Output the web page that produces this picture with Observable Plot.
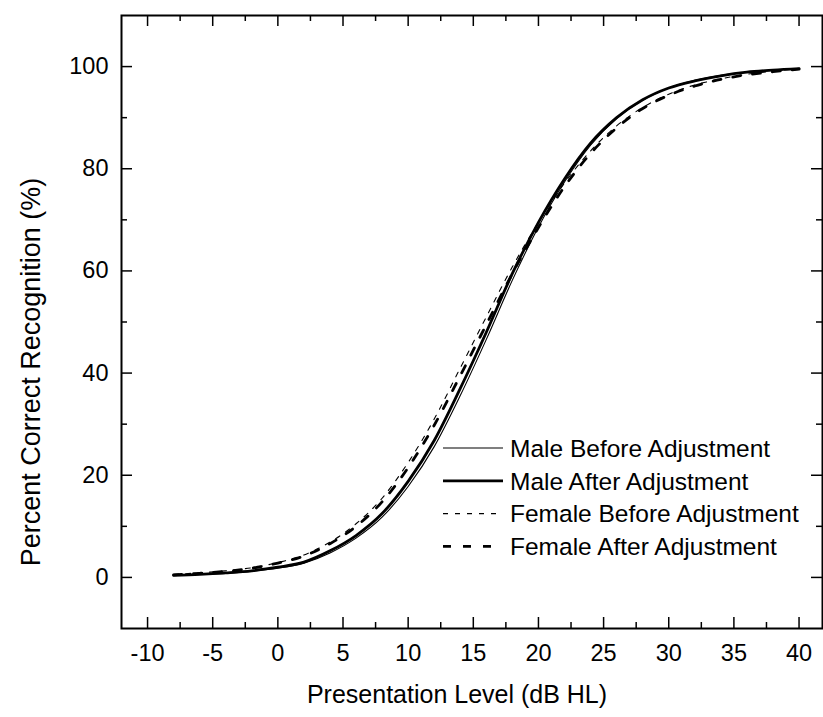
<!DOCTYPE html>
<html>
<head>
<meta charset="utf-8">
<script src="https://cdn.jsdelivr.net/npm/d3@7"></script>
<script src="https://cdn.jsdelivr.net/npm/@observablehq/plot@0.6"></script>
<style>
  body { margin: 0; background: #fff; }
  #chart { position: relative; width: 823px; height: 717px; font-family: "Liberation Sans", Arial, sans-serif; }
  #legend { position: absolute; left: 0; top: 0; pointer-events: none; }
</style>
</head>
<body>
<div id="chart"></div>
<script>
// ---- data ----
const levels       = [-8, -6, -4, -2, 0, 2, 4, 6, 8, 10, 12, 14, 16, 18, 20, 22, 24, 26, 28, 30, 32, 34, 36, 38, 40];
const maleBefore   = [0.4, 0.6, 0.8, 1.2, 1.8, 2.8, 4.8, 7.7, 11.8, 17.8, 25.6, 35.6, 46.6, 58.2, 68.6, 77.4, 84.6, 89.8, 93.4, 95.8, 97.3, 98.3, 98.9, 99.3, 99.6];
const maleAfter    = [0.4, 0.6, 0.9, 1.3, 2.0, 3.0, 5.2, 8.2, 12.5, 18.8, 26.8, 37.0, 48.0, 59.5, 69.5, 78.0, 85.0, 90.0, 93.5, 95.8, 97.2, 98.2, 98.9, 99.3, 99.6];
const femaleBefore = [0.6, 0.9, 1.3, 1.9, 2.9, 4.4, 6.9, 10.5, 15.5, 22.5, 31.0, 41.0, 51.0, 60.8, 69.5, 77.2, 83.5, 88.4, 92.0, 94.6, 96.4, 97.6, 98.5, 99.1, 99.6];
const femaleAfter  = [0.5, 0.8, 1.2, 1.8, 2.8, 4.2, 6.6, 10.0, 14.8, 21.5, 29.8, 39.5, 49.5, 59.5, 68.5, 76.5, 83.0, 88.0, 91.8, 94.4, 96.2, 97.5, 98.4, 99.0, 99.5];
const seriesNames  = ["Male Before Adjustment", "Male After Adjustment", "Female Before Adjustment", "Female After Adjustment"];
const xMajorTicks  = [-10, -5, 0, 5, 10, 15, 20, 25, 30, 35, 40];
const xMinorTicks  = [-7.5, -2.5, 2.5, 7.5, 12.5, 17.5, 22.5, 27.5, 32.5, 37.5];
const yMajorTicks  = [0, 20, 40, 60, 80, 100];
const yMinorTicks  = [10, 30, 50, 70, 90];
const xTitle = "Presentation Level (dB HL)";
const yTitle = "Percent Correct Recognition (%)";

// ---- styles ----
const seriesStyle = [
  {strokeWidth: 1.1, dash: null},
  {strokeWidth: 2.8, dash: null},
  {strokeWidth: 1.1, dash: "5,7"},
  {strokeWidth: 2.8, dash: "8,12"}
];
const seriesValues = [maleBefore, maleAfter, femaleBefore, femaleAfter];
const rows = [];
seriesNames.forEach((name, i) => levels.forEach((x, j) => rows.push({series: name, x, y: seriesValues[i][j]})));

// ---- layout ----
const W = 823, H = 717;
const mL = 121, mR = 1, mT = 15, mB = 89;
const fw = W - mL - mR, fh = H - mT - mB;
const majorLen = 11, minorLen = 6;
const font = "'Liberation Sans', Arial, sans-serif";

const marks = [];
seriesNames.forEach((name, i) => {
  marks.push(Plot.line(rows.filter(d => d.series === name), {
    x: "x", y: "y", stroke: "black",
    strokeWidth: seriesStyle[i].strokeWidth,
    strokeDasharray: seriesStyle[i].dash,
    curve: "monotone-x"
  }));
});
// inward ticks on all four sides
marks.push(
  Plot.tickX(xMajorTicks, {x: d => d, insetTop: fh - majorLen, strokeWidth: 1.5}),
  Plot.tickX(xMinorTicks, {x: d => d, insetTop: fh - minorLen, strokeWidth: 1.5}),
  Plot.tickX(xMajorTicks, {x: d => d, insetBottom: fh - majorLen, strokeWidth: 1.5}),
  Plot.tickX(xMinorTicks, {x: d => d, insetBottom: fh - minorLen, strokeWidth: 1.5}),
  Plot.tickY(yMajorTicks, {y: d => d, insetRight: fw - majorLen, strokeWidth: 1.5}),
  Plot.tickY(yMinorTicks, {y: d => d, insetRight: fw - minorLen, strokeWidth: 1.5}),
  Plot.tickY(yMajorTicks, {y: d => d, insetLeft: fw - majorLen, strokeWidth: 1.5}),
  Plot.tickY(yMinorTicks, {y: d => d, insetLeft: fw - minorLen, strokeWidth: 1.5}),
  Plot.axisX(xMajorTicks, {tickSize: 0, tickPadding: 16, fontSize: 23.5, label: null, tickFormat: d => String(d)}),
  Plot.axisY(yMajorTicks, {tickSize: 0, tickPadding: 13, fontSize: 23.5, label: null, tickFormat: d => String(d)}),
  Plot.text([xTitle], {text: d => d, frameAnchor: "bottom", dx: -15, dy: 74, fontSize: 25, fill: "black"}),
  Plot.text([yTitle], {text: d => d, frameAnchor: "left", textAnchor: "middle", rotate: -90, dx: -90, dy: 50, fontSize: 27, fill: "black"}),
  Plot.frame({stroke: "black", strokeWidth: 2})
);

const plot = Plot.plot({
  width: W, height: H,
  marginLeft: mL, marginRight: mR, marginTop: mT, marginBottom: mB,
  x: {domain: [-12, 41.8]},
  y: {domain: [-10, 110]},
  style: {fontFamily: font, color: "black", background: "white", overflow: "visible"},
  marks
});
const chart = document.getElementById("chart");
chart.appendChild(plot);

// ---- legend (inside plot area) ----
const lg = d3.select(chart).append("svg")
  .attr("id", "legend").attr("width", W).attr("height", H);
const legX0 = 443, legX1 = 503, legTextX = 510, legY0 = 448, legDy = 32.8;
seriesNames.forEach((name, i) => {
  const y = legY0 + i * legDy;
  lg.append("line").attr("x1", legX0).attr("x2", legX1).attr("y1", y).attr("y2", y)
    .attr("stroke", "black").attr("stroke-width", seriesStyle[i].strokeWidth)
    .attr("stroke-dasharray", seriesStyle[i].dash);
  lg.append("text").attr("x", legTextX).attr("y", y).attr("dy", "0.36em")
    .attr("font-family", font).attr("font-size", 24.5).attr("fill", "black").text(name);
});
</script>
</body>
</html>
